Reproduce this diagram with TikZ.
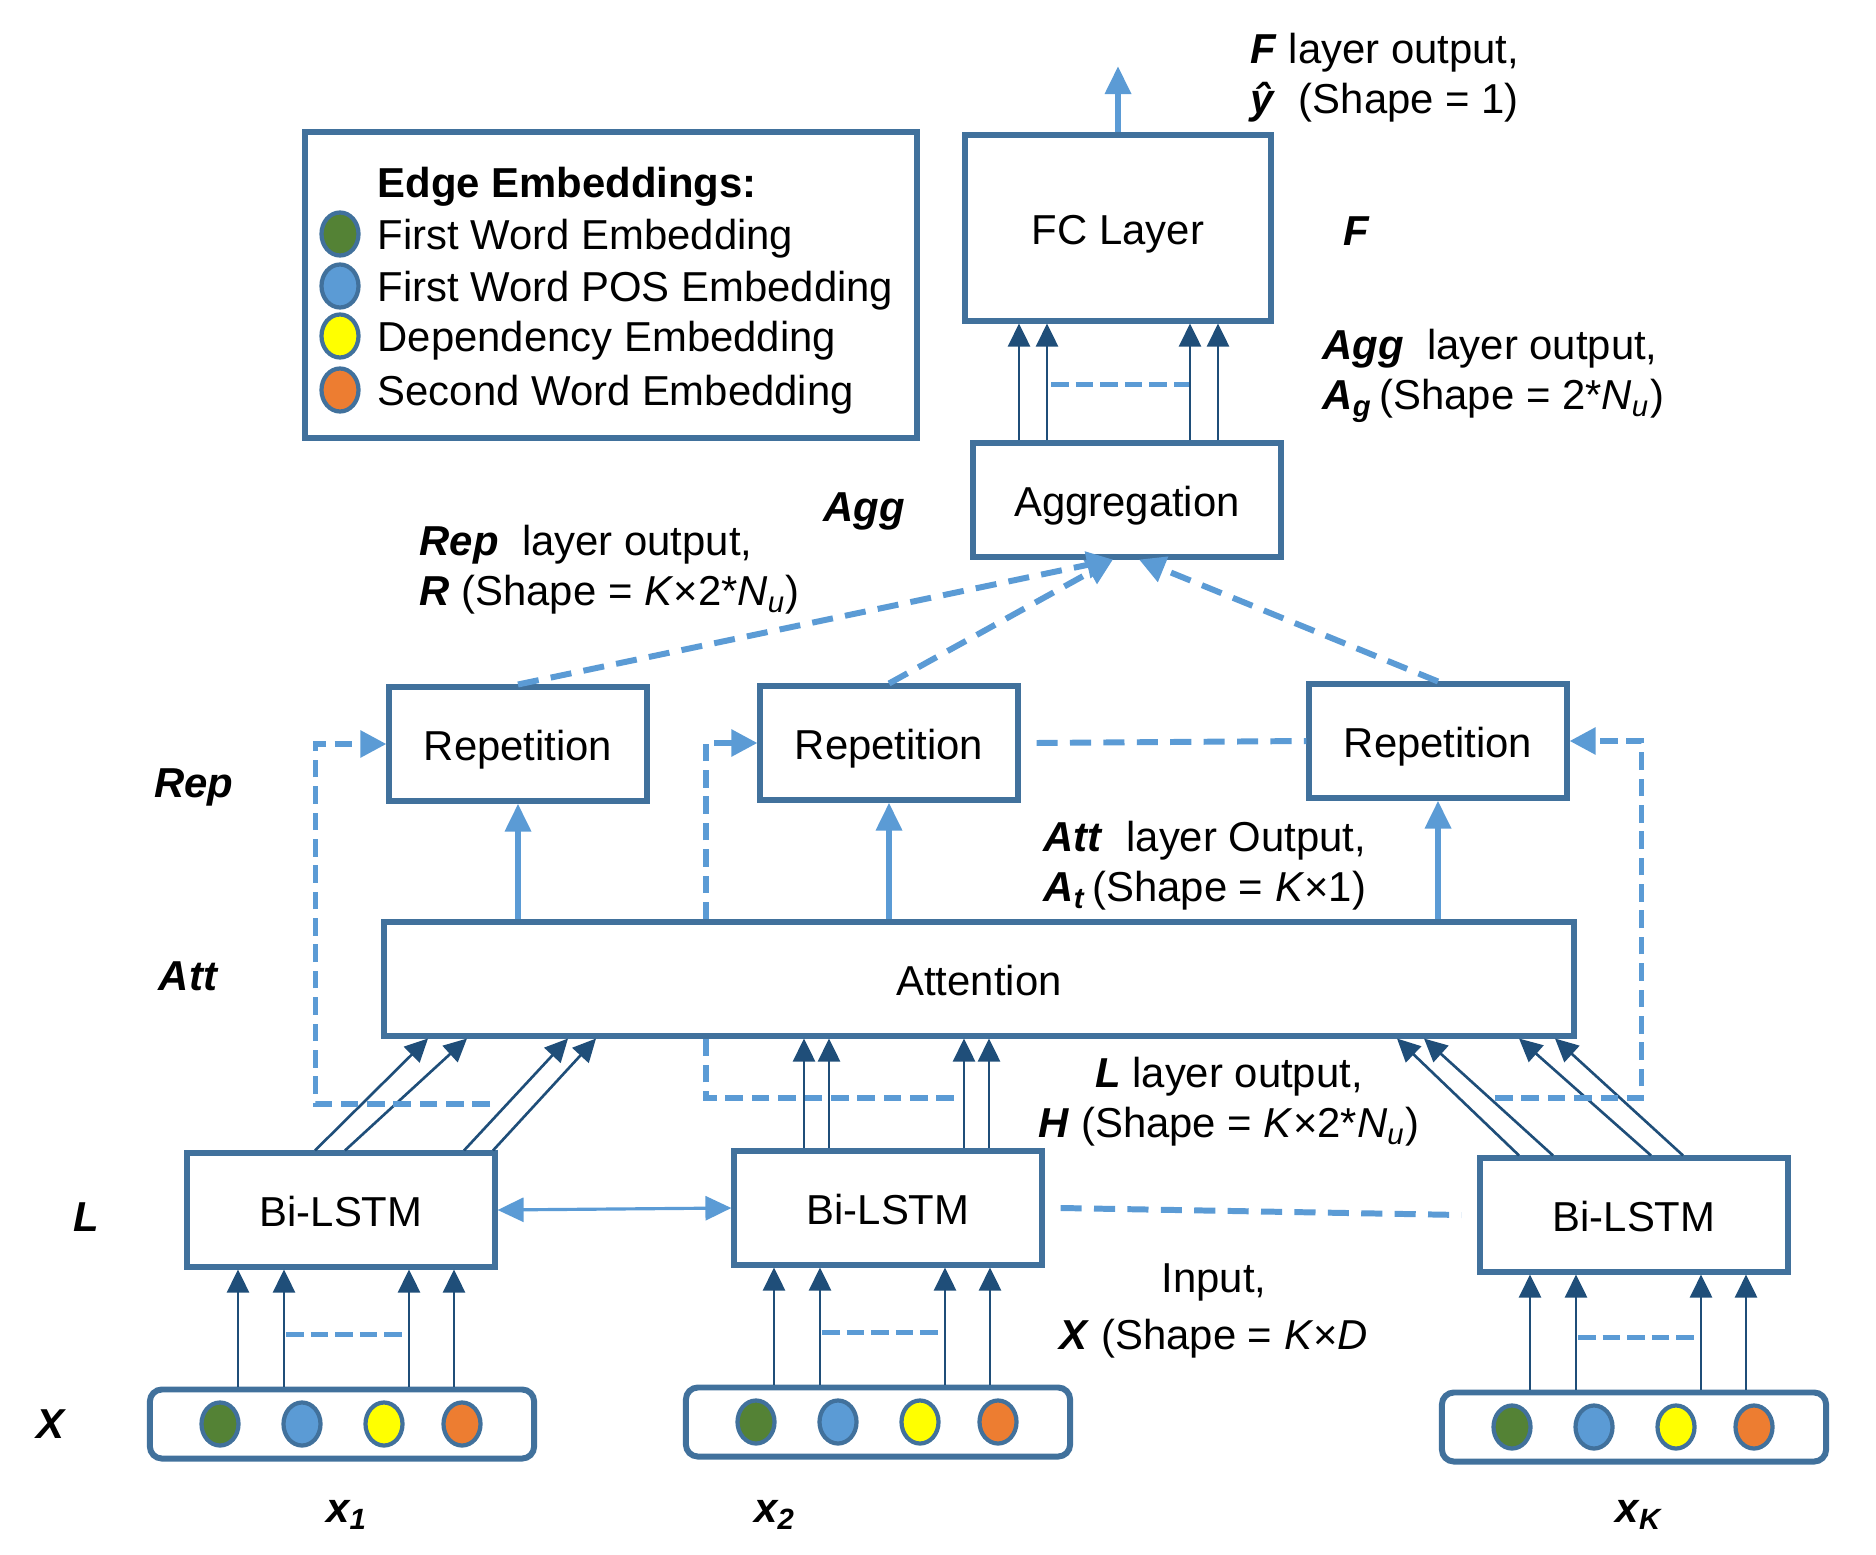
\documentclass[tikz,border=0pt]{standalone}
\usepackage{fontspec}
\setmainfont{Liberation Sans}
\usepackage{tikz}
\usetikzlibrary{positioning, arrows.meta, calc, shapes.geometric}
\definecolor{boxblue}{HTML}{41719C}
\definecolor{arrdark}{HTML}{1F4E79}
\definecolor{arrlight}{HTML}{5B9BD5}
\definecolor{embgreen}{HTML}{548235}
\definecolor{embblue}{HTML}{5B9BD5}
\definecolor{embyellow}{HTML}{FFFF00}
\definecolor{embred}{HTML}{ED7D31}
\newcommand{\bi}[1]{\textbf{\textit{#1}}}

\begin{document}
\begin{tikzpicture}[x=0.01cm, y=-0.01cm, font=\fontsize{11.9}{14.2}\selectfont,
  layer/.style={draw=boxblue, line width=1.7pt, fill=white, inner sep=0pt, text height=0.95em, text depth=0pt, minimum width=2.57cm, minimum height=1.13cm},
  inbox/.style={draw=boxblue, line width=1.7pt, rounded corners=1.2mm, minimum width=3.84cm, minimum height=0.69cm},
  emb/.style={ellipse, draw=boxblue, line width=1.2pt, minimum width=0.37cm, minimum height=0.43cm, inner sep=0pt},
  darr/.style={-{Triangle[length=2.3mm,width=2.2mm]}, draw=arrdark, line width=0.75pt},
  larr/.style={-{Triangle[length=2.8mm,width=2.5mm]}, draw=arrlight, line width=1.8pt},
  ldash/.style={draw=arrlight, line width=1.7pt, dash pattern=on 6pt off 3.5pt},
  fbdash/.style={draw=arrlight, line width=1.6pt, dash pattern=on 5pt off 2.5pt},
  sdash/.style={draw=arrlight, line width=1.5pt, dash pattern=on 5pt off 2pt},
  ltip/.style={-{Triangle[length=2.6mm,width=2.6mm]}},
  tag/.style={inner sep=0pt, font=\fontsize{11.9}{14.2}\selectfont\bfseries\itshape},
  leglabel/.style={anchor=west, inner sep=0pt, text height=0.88em, text depth=0pt},
  note/.style={inner sep=0pt, align=left, anchor=west},
]
\useasboundingbox (0,0) rectangle (1876,1555);

% legend
\node[draw=boxblue, line width=1.7pt, minimum width=6.11cm, minimum height=3.06cm] (leg) at (611,285) {};
\node[leglabel, font=\fontsize{11.9}{14.2}\selectfont\bfseries] (legt) at (377,182) {Edge Embeddings:};
\foreach \c/\y/\t [count=\k] in {embgreen/234/First Word Embedding, embblue/286/First Word POS Embedding, embyellow/336/Dependency Embedding, embred/390/Second Word Embedding} {
  \node[emb, fill=\c] (lc\k) at (340,\y) {};
  \node[leglabel] (lt\k) at (377,\y) {\t};
}

% feedback loops (drawn first, boxes cover them)
\coordinate (fbl) at (490,1104);
\coordinate (fbm) at (954,1098);
\coordinate (fbmc) at (706,1098);
\coordinate (fbr) at (1495,1098);

% layers
\node[layer, minimum width=3.06cm, minimum height=1.85cm] (fc) at (1118,228) {FC Layer};
\node[layer, minimum width=3.08cm] (agg) at (1127,500) {Aggregation};
\node[layer] (rep1) at (518,744) {Repetition};
\node[layer] (rep2) at (889,743) {Repetition};
\node[layer] (rep3) at (1438,741) {Repetition};
\node[layer, minimum width=11.89cm] (att) at (979,979) {Attention};
\node[layer, minimum width=3.07cm] (bl1) at (341,1210) {Bi-LSTM};
\node[layer, minimum width=3.07cm] (bl2) at (888,1208) {Bi-LSTM};
\node[layer, minimum width=3.07cm] (bl3) at (1634,1215) {Bi-LSTM};
\node[inbox] (in1) at (342,1424) {};
\node[inbox] (in2) at (878,1422) {};
\node[inbox] (in3) at (1634,1427) {};

% input embeddings
\foreach \n in {1,2,3}
  \foreach \dx/\c [count=\k] in {-122/embgreen, -40/embblue, 42/embyellow, 120/embred}
    \node[emb, fill=\c] (e\n\k) at ($(in\n)+(\dx,0)$) {};

% input -> Bi-LSTM
\foreach \n in {1,2,3} {
  \foreach \dx in {-104,-58,67,112} {
    \coordinate (s) at ($(in\n.north)+(\dx,0)$);
    \draw[darr] (s) -- (s |- bl\n.south);
  }
  \draw[sdash] ($(in\n.north)+(-56,-52)$) -- ($(in\n.north)+(65,-52)$);
}

% Bi-LSTM -> Attention
\foreach \a/\b in {-26/-551, 4/-512, 123/-411, 152/-383}
  \draw[darr] ($(bl1.north)+(\a,0)$) -- ($(att.south)+(\b,0)$);
\foreach \dx in {-84,-59,76,101} {
  \coordinate (s) at ($(bl2.north)+(\dx,0)$);
  \draw[darr] (s) -- (s |- att.south);
}
\foreach \a/\b in {-115/418, -81/445, 17/540, 49/576}
  \draw[darr] ($(bl3.north)+(\a,0)$) -- ($(att.south)+(\b,0)$);

\draw[{Triangle[length=2.6mm,width=2.4mm]}-{Triangle[length=2.6mm,width=2.4mm]}, draw=arrlight, line width=0.9pt] (bl1.east) -- (bl2.west);
\draw[ldash] ($(bl2.east)+(16,0)$) -- ($(bl3.west)+(-16,0)$);

% feedback to repetition
\draw[fbdash, ltip] (fbl) -| ($(rep1.west)+(-71,0)$) -- (rep1.west);
\draw[fbdash] (fbm) -- (fbmc) -- (fbmc |- att.south);
\draw[fbdash, ltip] (fbmc |- att.north) |- (rep2.west);
\draw[fbdash, ltip] (fbr) -| ($(rep3.east)+(72,0)$) -- (rep3.east);

% Attention -> Repetition
\foreach \r in {rep1,rep2,rep3}
  \draw[larr] (att.north -| \r) -- (\r.south);

% Repetition -> Aggregation
\draw[ldash, ltip] (rep1.north) -- ($(agg.south)+(-14,0)$);
\draw[ldash, ltip] (rep2.north) -- ($(agg.south)+(-14,0)$);
\draw[ldash, ltip] (rep3.north) -- ($(agg.south)+(12,0)$);
\draw[ldash] ($(rep2.east)+(16,0)$) -- (rep3.west);

% Aggregation -> FC
\foreach \dx in {-99,-71,72,100} {
  \coordinate (s) at ($(fc.south)+(\dx,0)$);
  \draw[darr] (s |- agg.north) -- (s);
}
\draw[sdash] ($(fc.south)+(-67,61)$) -- ($(fc.south)+(71,61)$);
\coordinate (yhat) at (1118,66);
\draw[larr] (fc.north) -- (yhat);

% layer tags
\node[tag] (tF) at (1356,231) {F};
\node[tag] (tAgg) at (864,511) {Agg};
\node[tag] (tRep) at (194,787) {Rep};
\node[tag] (tAtt) at (188,976) {Att};
\node[tag] (tL) at (86,1217) {L};
\node[tag] (tX) at (50,1424) {X};
\node[tag] (x1) at (347,1515) {x\textsubscript{1}};
\node[tag] (x2) at (775,1515) {x\textsubscript{2}};
\node[tag] (xK) at (1639,1515) {x\textsubscript{K}};

% output notes
\node[note] (fout) at (1250,78) {\bi{F} layer output,\\\bi{ŷ}\ \ (Shape = 1)};
\node[note] (aggout) at (1322,376) {\bi{Agg}\ \ layer output,\\\bi{A\textsubscript{g}}\,(Shape = 2*\textit{N\textsubscript{u}})};
\node[note] (repout) at (419,570) {\bi{Rep}\ \ layer output,\\\bi{R} (Shape = \textit{K}×2*\textit{N\textsubscript{u}})};
\node[note] (attout) at (1043,866) {\bi{Att}\ \ layer Output,\\\bi{A\textsubscript{t}}\,(Shape = \textit{K}×1)};
\node[inner sep=0pt, align=center] (lout) at (1229,1102) {\bi{L} layer output,\\\bi{H} (Shape = \textit{K}×2*\textit{N\textsubscript{u}})};
\node[inner sep=0pt, align=center] (xin) at (1214,1311) {Input,\\[2pt]\bi{X} (Shape = \textit{K}×\textit{D}};
\end{tikzpicture}
\end{document}
